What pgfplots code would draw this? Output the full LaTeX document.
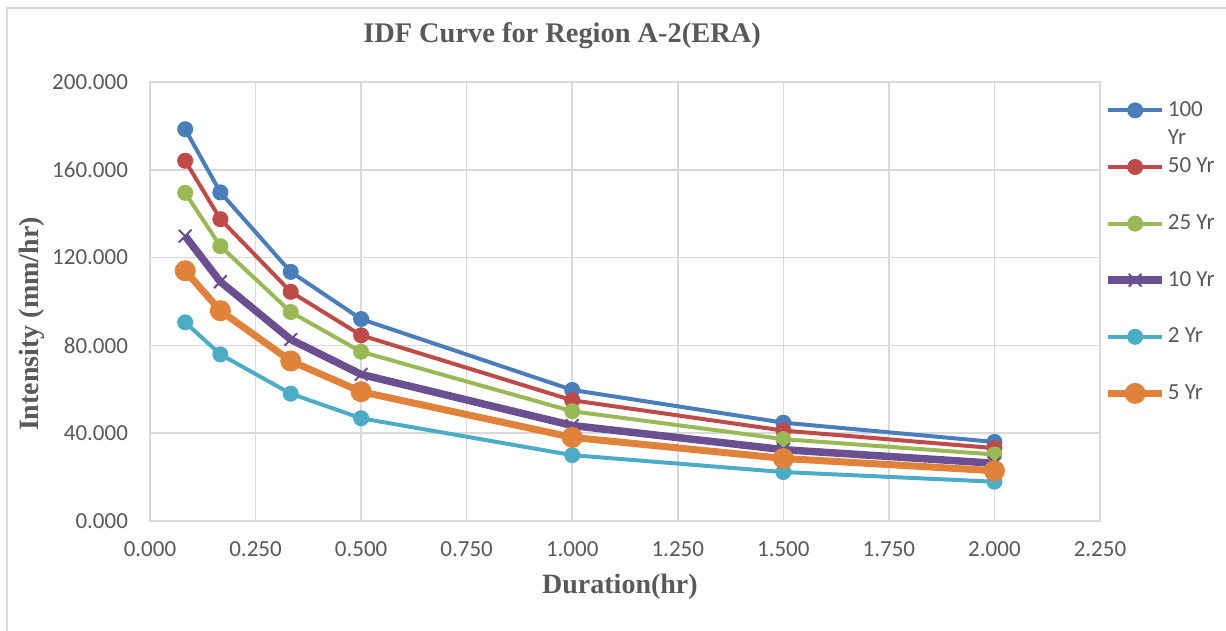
\documentclass[border=0pt]{standalone}
\usepackage{fontspec}
\setmainfont{Carlito}
\newfontfamily\timesfont{Liberation Serif}
\usepackage{pgfplots}
\pgfplotsset{compat=1.18}
\definecolor{sblue}{HTML}{4A7EBB}
\definecolor{sred}{HTML}{BE4B48}
\definecolor{sgreen}{HTML}{98B954}
\definecolor{spurple}{HTML}{6B5091}
\definecolor{saqua}{HTML}{4BACC6}
\definecolor{sorange}{HTML}{E0823A}
\definecolor{gridgray}{HTML}{D9D9D9}
\definecolor{bordergray}{HTML}{D9D9D9}
\definecolor{textgray}{HTML}{595959}
\begin{document}
\begin{tikzpicture}
\path[use as bounding box] (0,0) rectangle (613bp,315.5bp);
\draw[color=bordergray, line width=0.75bp] (3.5bp,0) -- (3.5bp,311.5bp) -- (613bp,311.5bp);
\begin{axis}[
  at={(75bp,55bp)}, anchor=south west,
  scale only axis, width=475bp, height=219.5bp,
  xmin=0, xmax=2.25, ymin=0, ymax=200,
  xtick={0,0.25,0.5,0.75,1,1.25,1.5,1.75,2,2.25},
  ytick={0,40,80,120,160,200},
  grid=major,
  grid style={color=gridgray, line width=0.75bp},
  axis line style={color=gridgray, line width=0.75bp},
  tick style={draw=none},
  /pgf/number format/assume math mode=true,
  /pgf/number format/.cd, fixed, fixed zerofill, precision=3, /pgfplots/.cd,
  ticklabel style={font=\fontsize{11.5bp}{13bp}\selectfont, text=textgray},
  xticklabel style={yshift=-7bp},
  yticklabel style={xshift=-7.5bp},
  title={\timesfont\bfseries IDF Curve for Region A-2(ERA)},
  title style={at={(axis description cs:0.4337,1.0629)}, anchor=base, font=\fontsize{14.2bp}{16bp}\selectfont, text=textgray, inner sep=0pt},
  xlabel={\timesfont\bfseries Duration(hr)},
  xlabel style={at={(axis description cs:0.4947,-0.1649)}, anchor=base, font=\fontsize{14bp}{16bp}\selectfont, text=textgray, inner sep=0pt},
  ylabel={\timesfont\bfseries Intensity (mm/hr)},
  ylabel style={at={(axis description cs:-0.1175,0.4487)}, anchor=base, rotate=0, font=\fontsize{14bp}{16bp}\selectfont, text=textgray, inner sep=0pt},
  legend cell align=left,
  legend style={draw=none, fill=none, inner sep=0pt, at={(1,1)}, anchor=north west, xshift=2bp, yshift=-7bp,
    row sep=14.3bp, column sep=1bp,
    nodes={inner sep=0pt, text height=10bp, text depth=4bp, text=textgray, font=\fontsize{11.5bp}{13bp}\selectfont}},
  legend image code/.code={\draw[mark repeat=2,mark phase=2] plot coordinates {(0bp,0bp) (13.5bp,0bp) (27bp,0bp)};},
]
\addplot[color=sblue, line width=2bp, mark=*, mark size=3.75bp, mark options={line width=0.5bp, fill=sblue}] coordinates {
(0.0833,178.5) (0.1667,149.7) (0.3333,113.5) (0.5,92.0) (1,59.7) (1.5,44.8) (2,36.0)};
\addlegendentry{\smash{\rlap{\raisebox{-14.2bp}{Yr}}}100}
\addplot[color=sred, line width=2bp, mark=*, mark size=3.75bp, mark options={line width=0.5bp, fill=sred}] coordinates {
(0.0833,164.1) (0.1667,137.5) (0.3333,104.4) (0.5,84.6) (1,55.0) (1.5,41.2) (2,33.2)};
\addlegendentry{50 Yr}
\addplot[color=sgreen, line width=2bp, mark=*, mark size=3.75bp, mark options={line width=0.5bp, fill=sgreen}] coordinates {
(0.0833,149.5) (0.1667,125.2) (0.3333,95.2) (0.5,77.1) (1,50.0) (1.5,37.3) (2,30.3)};
\addlegendentry{25 Yr}
\addplot[color=spurple, line width=3.75bp, mark=x, mark size=4.5bp, mark options={line width=1bp}] coordinates {
(0.0833,129.8) (0.1667,109.0) (0.3333,82.7) (0.5,66.8) (1,43.5) (1.5,32.5) (2,26.3)};
\addlegendentry{10 Yr}
\addplot[color=saqua, line width=2bp, mark=*, mark size=3.75bp, mark options={line width=0.5bp, fill=saqua}] coordinates {
(0.0833,90.5) (0.1667,75.9) (0.3333,58.0) (0.5,46.8) (1,30.0) (1.5,22.3) (2,17.9)};
\addlegendentry{2 Yr}
\addplot[color=sorange, line width=3.5bp, mark=*, mark size=5bp, mark options={line width=0.5bp, fill=sorange}] coordinates {
(0.0833,114.0) (0.1667,95.8) (0.3333,72.9) (0.5,58.9) (1,38.1) (1.5,28.5) (2,22.9)};
\addlegendentry{5 Yr}
\end{axis}
\end{tikzpicture}
\end{document}
